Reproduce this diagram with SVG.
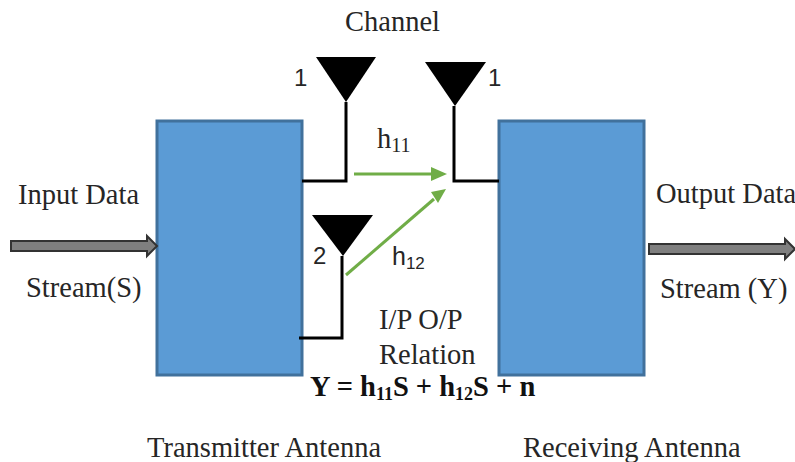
<svg xmlns="http://www.w3.org/2000/svg" width="795" height="462" viewBox="0 0 795 462">
<style>
.t{font-family:"Liberation Serif","Times New Roman",serif;font-size:28.5px;fill:#262626}
.n{font-family:"Liberation Sans",Arial,sans-serif;font-size:24px;fill:#262626}
.b{font-weight:bold;fill:#111}
.box{fill:#5b9bd5;stroke:#41719c;stroke-width:3}
.w{fill:none;stroke:#000;stroke-width:3}
.g{fill:none;stroke:#70ad47;stroke-width:3}
.big{fill:#7f7f7f;stroke:#333;stroke-width:2}
</style>
<rect width="795" height="462" fill="#fff"/>
<g id="transmitter"><rect class="box" x="157" y="121" width="145" height="254"/><text class="t" x="147" y="457">Transmitter Antenna</text></g>
<g id="receiver"><rect class="box" x="499" y="121" width="145" height="254"/><text class="t" x="523" y="457">Receiving Antenna</text></g>
<g id="tx-antenna-1"><polygon points="316,57 376,57 346,102"/><text class="n" x="294" y="86">1</text></g>
<g id="rx-antenna-1"><polygon points="425,62 486,62 455,106"/><text class="n" x="488" y="86">1</text></g>
<g id="tx-antenna-2"><polygon points="312,215 373,215 343,256"/><text class="n" x="313" y="264">2</text></g>
<g id="connectors">
<path class="w" d="M302 181H346V102"/>
<path class="w" d="M499 181H454V106"/>
<path class="w" d="M299 338H342V256"/>
<path class="g" d="M354 174H432"/><polygon points="431,167 447,174 431,181" fill="#70ad47"/>
<path class="g" d="M346 275L434 199"/><polygon points="431,192 446,189 438,203" fill="#70ad47"/>
<polygon class="big" points="11,241 147,241 147,236 157,246 147,256 147,251 11,251"/>
<polygon class="big" points="649,244 785,244 785,239 795,249 785,259 785,254 649,254"/>
</g>
<g id="labels">
<text class="t" x="345" y="31">Channel</text>
<text class="t" x="18" y="204">Input Data</text>
<text class="t" x="26" y="297">Stream(S)</text>
<text class="t" x="656" y="203">Output Data</text>
<text class="t" x="660" y="298">Stream (Y)</text>
<text class="t" x="377" y="148">h<tspan font-size="20" dy="4">11</tspan></text>
<text class="n" x="392" y="265" font-size="25" style="font-size:25px">h<tspan style="font-size:17px" dy="4">12</tspan></text>
<text class="t" x="379" y="329">I/P O/P</text>
<text class="t" x="379" y="364">Relation</text>
<text class="t b" x="310" y="396">Y = h<tspan font-size="18" dy="4">11</tspan><tspan dy="-4">S + h</tspan><tspan font-size="18" dy="4">12</tspan><tspan dy="-4">S + n</tspan></text>
</g>
</svg>
